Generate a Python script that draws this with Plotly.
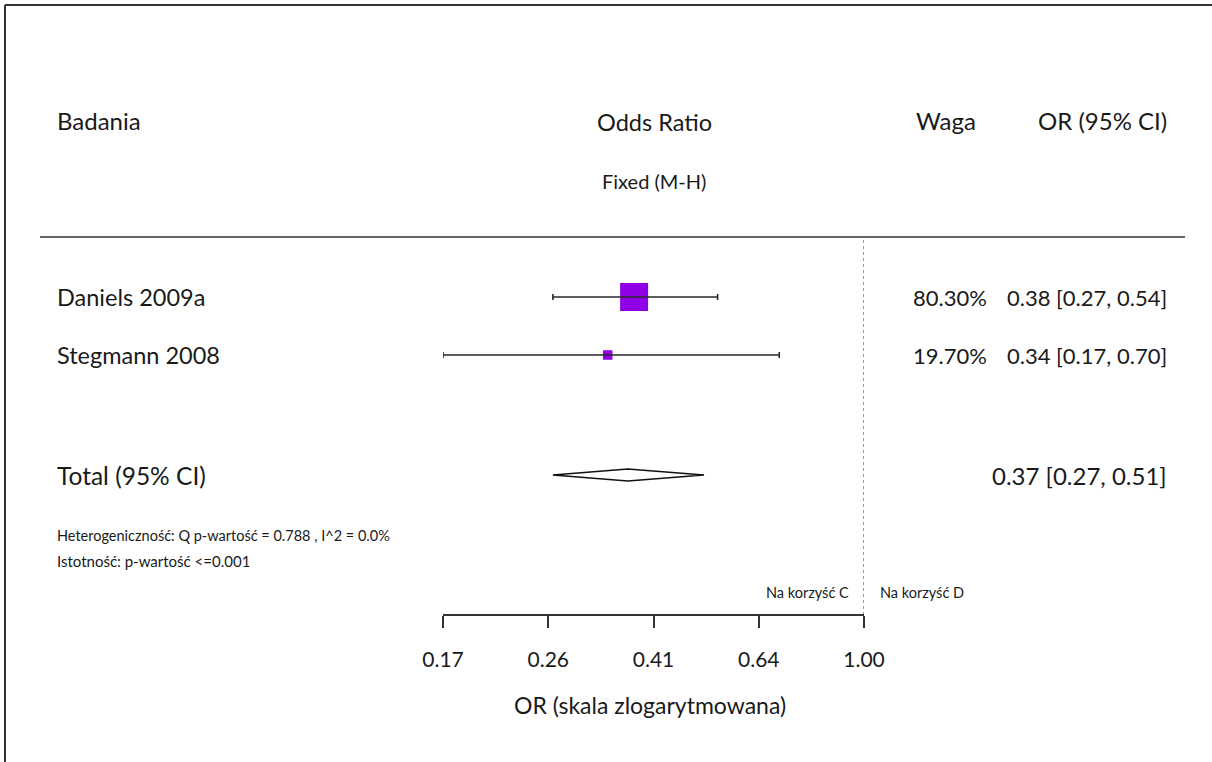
import math
import plotly.graph_objects as go

# Study data
studies = ["Daniels 2009a", "Stegmann 2008"]
odds_ratio = [0.38, 0.34]
ci_low = [0.27, 0.17]
ci_high = [0.54, 0.70]
weights = [80.30, 19.70]

# Pooled (fixed effect, Mantel-Haenszel)
total_or = 0.37
total_low = 0.27
total_high = 0.51

# Axis ticks (equal steps on the log scale, labels rounded)
axis_min, axis_max = 0.17, 1.00
tick_labels = ["0.17", "0.26", "0.41", "0.64", "1.00"]

W, H = 1212, 762
FONT = "Lato"
TXT = "#1a1a1a"
PURPLE = "#9000e6"

# Vertical layout (pixel rows, y axis runs top-down)
row_y = [297, 355]
total_y = 475
axis_row = 615
header_y = 120

tick_vals = [axis_min ** (1 - k / 4) for k in range(5)]

fig = go.Figure()

# Null-effect reference line at OR = 1
fig.add_trace(go.Scatter(
    x=[1.0, 1.0], y=[240, axis_row], mode="lines",
    line=dict(color="#666666", width=1.3, dash="dot"),
    hoverinfo="skip", showlegend=False))

# Study boxes, sized by weight
fig.add_trace(go.Scatter(
    x=odds_ratio, y=row_y, mode="markers",
    marker=dict(symbol="square", color=PURPLE, opacity=1,
                size=[3.5 + 0.305 * w for w in weights], line=dict(width=0)),
    hoverinfo="skip", showlegend=False))

# Confidence intervals drawn over the boxes
fig.add_trace(go.Scatter(
    x=odds_ratio, y=row_y, mode="markers",
    marker=dict(size=1, color="rgba(0,0,0,0)"),
    error_x=dict(type="data", symmetric=False,
                 array=[h - o for h, o in zip(ci_high, odds_ratio)],
                 arrayminus=[o - l for o, l in zip(odds_ratio, ci_low)],
                 color="#2a2a2a", thickness=1.6, width=3),
    hoverinfo="skip", showlegend=False))

# Pooled estimate diamond
fig.add_trace(go.Scatter(
    x=[total_low, total_or, total_high, total_or, total_low],
    y=[total_y, total_y - 6, total_y, total_y + 6, total_y],
    mode="lines", fill="toself", fillcolor="white",
    line=dict(color="#111111", width=1.5),
    hoverinfo="skip", showlegend=False))

anns = []


def txt(x, y, s, size, anchor="left", color=TXT):
    anns.append(dict(x=x / W, y=y, xref="paper", yref="y", text=s,
                     showarrow=False, xanchor=anchor, yanchor="middle",
                     font=dict(family=FONT, size=size, color=color)))


# Column headers
txt(55, header_y, "Badania", 24)
txt(654, header_y + 2, "Odds Ratio", 23.5, "center")
txt(654, 181, "Fixed (M-H)", 20, "center")
txt(914, header_y, "Waga", 24)
txt(1169, header_y, "OR (95% CI)", 24, "right")

# Study rows
for name, y, o, l, h, w in zip(studies, row_y, odds_ratio, ci_low, ci_high, weights):
    txt(55, y, name, 23.5)
    txt(989, y, f"{w:.2f}%", 22, "right")
    txt(1169, y, f"{o:.2f} [{l:.2f}, {h:.2f}]", 22, "right")

# Pooled row
txt(55, total_y, "Total (95% CI)", 24.5)
txt(1169, total_y, f"{total_or:.2f} [{total_low:.2f}, {total_high:.2f}]", 24, "right")

# Test statistics
txt(55, 535, "Heterogeniczność: Q p-wartość = 0.788 , I^2 = 0.0%", 14.5)
txt(55, 561, "Istotność: p-wartość <=0.001", 15)

# Direction labels
txt(851, 592, "Na korzyść C", 14.5, "right")
txt(878, 592, "Na korzyść D", 14.5)

# Axis title
txt(650, 705, "OR (skala zlogarytmowana)", 23, "center")

shapes = [
    # header separator
    dict(type="line", xref="paper", yref="y", x0=40 / W, x1=1185 / W,
         y0=237, y1=237, line=dict(color="#333333", width=1.5)),
    # outer frame (top and left edges; the rest runs off the page)
    dict(type="line", xref="paper", yref="paper", x0=5 / W, x1=1.0,
         y0=1 - 5 / H, y1=1 - 5 / H, line=dict(color="#333333", width=2)),
    dict(type="line", xref="paper", yref="paper", x0=5 / W, x1=5 / W,
         y0=0, y1=1 - 5 / H, line=dict(color="#333333", width=2)),
]

fig.update_layout(
    width=W, height=H,
    margin=dict(l=0, r=0, t=0, b=0, pad=0, autoexpand=False),
    paper_bgcolor="white", plot_bgcolor="white",
    showlegend=False,
    annotations=anns, shapes=shapes,
    xaxis=dict(
        type="log", range=[math.log10(axis_min), math.log10(axis_max)],
        domain=[443 / W, 864 / W], automargin=False,
        anchor="free", position=1 - axis_row / H,
        showline=True, linecolor="#333333", linewidth=1.5,
        ticks="outside", ticklen=12, tickwidth=1.5, tickcolor="#333333",
        tickvals=tick_vals, ticktext=tick_labels,
        tickfont=dict(family=FONT, size=21, color=TXT),
        ticklabelstandoff=14,
        showgrid=False, zeroline=False, fixedrange=True),
    yaxis=dict(range=[H, 0], domain=[0, 1], visible=False, automargin=False,
               showgrid=False, zeroline=False, fixedrange=True),
)

fig.write_html("out.html")
